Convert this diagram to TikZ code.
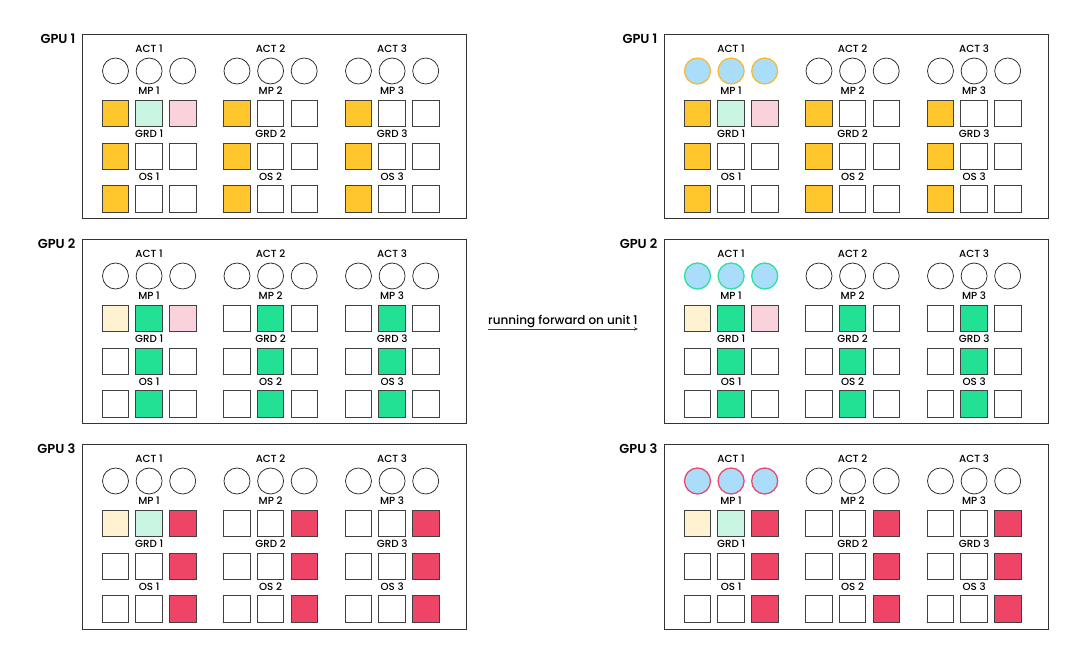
\documentclass[tikz,border=0pt]{standalone}
\usepackage{fontspec}
\setmainfont{Poppins}[UprightFont = * Medium, BoldFont = * SemiBold]
\usetikzlibrary{positioning, arrows.meta, calc}

\definecolor{own1}{HTML}{FFC72C}
\definecolor{own2}{HTML}{22E194}
\definecolor{own3}{HTML}{EE4466}
\definecolor{faint1}{HTML}{FFF2D1}
\definecolor{faint2}{HTML}{C9F6E2}
\definecolor{faint3}{HTML}{F9D2DC}
\definecolor{ring1}{HTML}{F6BA35}
\definecolor{ring2}{HTML}{2EE0A0}
\definecolor{ring3}{HTML}{EB4A6A}
\definecolor{actfill}{HTML}{A9DDFA}

\begin{document}
\begin{tikzpicture}[
        x=1pt, y=-1pt,
        gpubox/.style={rectangle, draw=black!80, line width=0.9pt, minimum width=384pt, minimum height=184pt, anchor=north west},
        gpulabel/.style={font=\fontsize{13}{14}\selectfont\bfseries, anchor=east, inner sep=0pt},
        unitlabel/.style={font=\fontsize{10.3}{11}\selectfont, inner sep=0pt},
        cell/.style={rectangle, draw=black!75, line width=0.75pt, minimum size=26.5pt, inner sep=0pt},
        act/.style={circle, minimum size=26pt, inner sep=0pt}
    ]
    \useasboundingbox (0,0) rectangle (1080,660);

    \foreach \side/\ox in {L/0, R/582} {
        \foreach \k in {1,2,3} {
            \pgfmathsetmacro{\bx}{82+\ox}
            \pgfmathsetmacro{\by}{34.5+205*(\k-1)}
            \node[gpubox] (box\side\k) at (\bx, \by) {};
            \node[gpulabel] (gpu\side\k) at (\bx-6.5, \by+4.5) {GPU \k};
            \foreach \g in {1,2,3} {
                \pgfmathsetmacro{\gx}{\bx+33.5+121.5*(\g-1)}
                \node[unitlabel] (act\side\k\g) at (\gx+33.6, \by+13.8) {ACT \g};
                \foreach \c in {1,2,3} {
                    % activations of unit 1 are filled after the forward pass
                    \def\actbg{white}\def\actline{black!85}\def\actlw{0.75pt}
                    \if\side R\ifnum\g=1 \def\actbg{actfill}\def\actline{ring\k}\def\actlw{1.3pt}\fi\fi
                    \node[act, fill=\actbg, draw=\actline, line width=\actlw] (a\side\k\g\c) at ({\gx+33.6*(\c-1)}, \by+36.5) {};
                }
                \foreach \r/\part in {1/MP, 2/GRD, 3/OS} {
                    \node[unitlabel] (lab\side\k\g\r) at (\gx+33.6, {\by+13.8+42.7*\r}) {\part\ \g};
                    \foreach \c in {1,2,3} {
                        \def\cellbg{white}
                        \ifnum\c=\k \def\cellbg{own\k}\else\ifnum\g=1 \ifnum\r=1 \def\cellbg{faint\c}\fi\fi\fi
                        \node[cell, fill=\cellbg] (s\side\k\g\r\c) at ({\gx+33.6*(\c-1)}, {\by+36.5+42.6*\r}) {};
                    }
                }
            }
        }
    }

    \coordinate (fwdstart) at (488, 329);
    \coordinate (fwdend) at (638, 329);
    \draw[black!75, line width=0.8pt, -{Stealth[length=4pt, width=3.5pt]}] (fwdstart) -- (fwdend);
    \node[font=\fontsize{12}{13}\selectfont, anchor=base west, inner sep=0pt] (fwdtext) at (488, 324.5) {running forward on unit 1};
\end{tikzpicture}
\end{document}
